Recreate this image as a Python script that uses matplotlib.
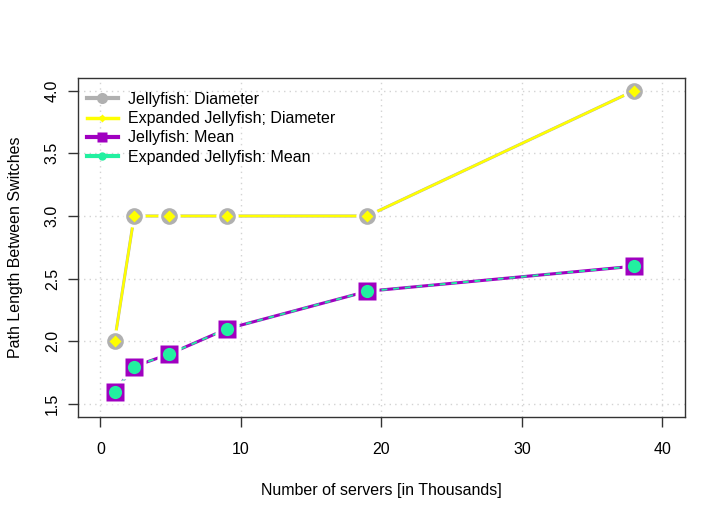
import matplotlib
matplotlib.use('Agg')
import matplotlib.pyplot as plt
from matplotlib.lines import Line2D

plt.rcParams['font.family'] = ['Liberation Sans', 'DejaVu Sans']

# data
servers_k = [1, 2.4, 4.9, 9, 19, 38]
jf_diameter = [2, 3, 3, 3, 3, 4]
ejf_diameter = [2, 3, 3, 3, 3, 4]
jf_mean = [1.6, 1.8, 1.9, 2.1, 2.4, 2.6]
ejf_mean = [1.6, 1.8, 1.9, 2.1, 2.4, 2.6]

x_ticks = [0, 10, 20, 30, 40]
y_ticks = [1.5, 2.0, 2.5, 3.0, 3.5, 4.0]

GREY = '#b0b0b0'
YELLOW = '#ffff00'
PURPLE = '#a000c0'
GREEN = '#22f0a0'

fig = plt.figure(figsize=(7.26, 5.15), dpi=100)
ax = fig.add_axes([0.1074, 0.1909, 0.8361, 0.6576])

# grid (R style dotted)
for xt in x_ticks:
    ax.axvline(xt, color='#d3d3d3', lw=1, ls=(0, (1, 3)), zorder=0)
for yt in y_ticks:
    ax.axhline(yt, color='#d3d3d3', lw=1, ls=(0, (1, 3)), zorder=0)

# lines
ax.plot(servers_k, jf_diameter, color=GREY, lw=2.2, zorder=1)
ax.plot(servers_k, ejf_diameter, color=YELLOW, lw=1.8, zorder=2)
ax.plot(servers_k, jf_mean, color=PURPLE, lw=2.2, zorder=1)
ax.plot(servers_k, ejf_mean, color=GREEN, lw=1.4, ls=(0, (3, 3)), zorder=2)

# white gaps around points (type="b")
ax.plot(servers_k, jf_diameter, ls='none', marker='o', ms=16, color='white', mec='none', zorder=3)
ax.plot(servers_k, jf_mean, ls='none', marker='s', ms=17, color='white', mec='none', zorder=3)

# markers
ax.plot(servers_k, jf_diameter, ls='none', marker='o', ms=12, color=GREY, mec='none', zorder=4)
ax.plot(servers_k, ejf_diameter, ls='none', marker='D', ms=6.5, color=YELLOW, mec='none', zorder=5)
ax.plot(servers_k, jf_mean, ls='none', marker='s', ms=13, color=PURPLE, mec='none', zorder=4)
ax.plot(servers_k, ejf_mean, ls='none', marker='o', ms=9.5, color=GREEN, mec='none', zorder=5)

ax.set_xlim(-1.6, 41.6)
ax.set_ylim(1.4, 4.1)
ax.set_xticks(x_ticks)
ax.set_yticks(y_ticks)
ax.set_yticklabels([f'{v:.1f}' for v in y_ticks], rotation=90, va='center')
ax.tick_params(direction='out', length=7, width=1, colors='#333333',
               labelcolor='black', labelsize=11.5)
ax.tick_params(axis='x', pad=11)
ax.tick_params(axis='y', pad=6)

for sp in ax.spines.values():
    sp.set_color('#333333')
    sp.set_linewidth(1)

ax.set_xlabel('Number of servers [in Thousands]', fontsize=11.5, labelpad=19)
ax.set_ylabel('Path Length Between Switches', fontsize=11.5, labelpad=16)

handles = [
    Line2D([], [], color=GREY, lw=3, marker='o', ms=8, mec='none'),
    Line2D([], [], color=YELLOW, lw=2.5, marker='D', ms=4, mec='none'),
    Line2D([], [], color=PURPLE, lw=3, marker='s', ms=7, mec='none'),
    Line2D([], [], color=GREEN, lw=3, marker='o', ms=6, mec='none'),
]
labels = ['Jellyfish: Diameter', 'Expanded Jellyfish; Diameter',
          'Jellyfish: Mean', 'Expanded Jellyfish: Mean']
ax.legend(handles, labels, loc='upper left', frameon=False, fontsize=11.5,
          handlelength=1.95, handletextpad=0.65, labelspacing=0.27,
          borderaxespad=0.0, bbox_to_anchor=(0.004, 0.978))

fig.savefig('out.png', dpi=100)
